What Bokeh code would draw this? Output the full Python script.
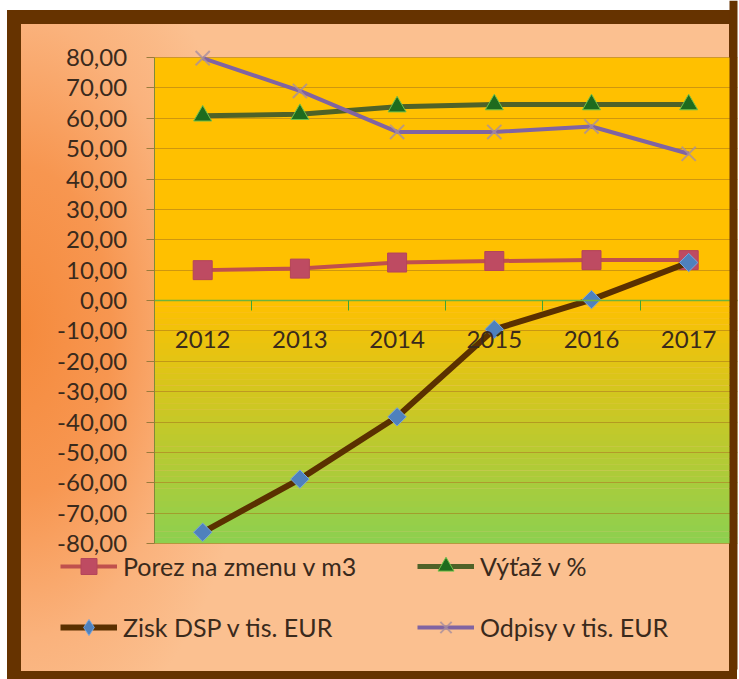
import math
from bokeh.plotting import figure
from bokeh.models import (Range1d, LinearAxis, FixedTicker, Grid, CustomJSTickFormatter,
                          Legend, LegendItem, BoxAnnotation, ColumnDataSource)
from bokeh.embed import file_html
from bokeh.resources import INLINE

# ---- data ----
years = ["2012", "2013", "2014", "2015", "2016", "2017"]
porez = [10.0, 10.5, 12.5, 13.0, 13.3, 13.3]       # Porez na zmenu v m3
vytaz = [60.8, 61.3, 63.8, 64.5, 64.5, 64.5]       # Výťaž v %
zisk = [-76.3, -58.8, -38.3, -9.5, 0.3, 12.5]      # Zisk DSP v tis. EUR
odpisy = [79.8, 69.0, 55.5, 55.5, 57.3, 48.3]      # Odpisy v tis. EUR
y_ticks = list(range(-80, 81, 10))
labels = ["Porez na zmenu v m3", "Výťaž v %", "Zisk DSP v tis. EUR", "Odpisy v tis. EUR"]

x_idx = list(range(len(years)))                      # category positions
x_lo, x_hi = -0.5, len(years) - 0.5                  # category band edges
y_lo, y_hi = y_ticks[0], y_ticks[-1]

src = ColumnDataSource(dict(x=x_idx, porez=porez, vytaz=vytaz, zisk=zisk, odpisy=odpisy))

FONT = "Lato"
TXT = "#3A2A1C"
W, H = 739, 679
# plot area in pixels (left, right, top, bottom)
PL, PR, PT, PB = 153.6, 736.8, 57.0, 543.0
px_x = (PR - PL) / (x_hi - x_lo)
px_y = (PB - PT) / (y_hi - y_lo)

p = figure(x_range=Range1d(x_lo - PL / px_x, x_hi + (W - PR) / px_x),
           y_range=Range1d(y_lo - (H - PB) / px_y, y_hi + PT / px_y),
           width=W, height=H, output_backend="svg", toolbar_location=None,
           x_axis_location=None, y_axis_location=None,
           min_border_left=0, min_border_top=0, min_border_right=0, min_border_bottom=0)

p.border_fill_alpha = 0
p.background_fill_alpha = 0
p.outline_line_color = None
p.grid.visible = False
p.styles = {
    "background": "radial-gradient(ellipse 240px 430px at 20px 330px, #F58A3C 0%, #F79650 38%, #FAB27C 72%, #FBC090 100%)",
    "box-shadow": ("inset 0 10px 0 #FFFFFF, inset 7px 0 0 #FFFFFF, inset -2px 0 0 #FFFFFF, "
                   "inset 0 24px 0 #663300, inset 21px 0 0 #663300, inset -10px 0 0 #663300, "
                   "inset 0 -8px 0 #663300"),
}

# plot-area fill: orange top half, orange->green gradient in the lower half
p.add_layout(BoxAnnotation(left=x_lo, right=x_hi, bottom=0, top=y_hi, fill_color="#FFC000",
                           fill_alpha=1, line_alpha=0, level="image"))
n = 40
c0 = (255, 192, 0)
c1 = (140, 208, 80)
for i in range(n):
    b = y_lo + i * (0 - y_lo) / n
    t = b + (0 - y_lo) / n + 0.05
    f = 1 - (i + 0.5) / n
    col = "#%02x%02x%02x" % tuple(int(round(c0[k] + (c1[k] - c0[k]) * f)) for k in range(3))
    p.add_layout(BoxAnnotation(left=x_lo, right=x_hi, bottom=b, top=min(t, 0), fill_color=col,
                               fill_alpha=1, line_alpha=0, level="image"))

# horizontal grid lines, limited to the plot area
yg = Grid(dimension=1, ticker=FixedTicker(ticks=y_ticks), cross_bounds=(x_lo, x_hi),
          grid_line_color="#A8741A", grid_line_alpha=0.55)
p.add_layout(yg)

# y axis at the left edge of the plot area
ya = LinearAxis(ticker=FixedTicker(ticks=y_ticks), fixed_location=x_lo, bounds=(y_lo, y_hi),
                formatter=CustomJSTickFormatter(code="return tick.toFixed(2).replace('.', ',');"))
ya.major_label_text_font = FONT
ya.major_label_text_font_size = "24px"
ya.major_label_text_color = TXT
ya.major_label_standoff = 19
ya.major_tick_in = 0
ya.major_tick_out = 8
ya.major_tick_line_color = "#9A7A3A"
ya.minor_tick_line_color = None
ya.axis_line_color = "#7E8A3A"
p.add_layout(ya, "left")

# category axis at y = 0: line + boundary ticks
xb = LinearAxis(ticker=FixedTicker(ticks=[i + 0.5 for i in x_idx[:-1]]), fixed_location=0,
                bounds=(x_lo, x_hi), formatter=CustomJSTickFormatter(code="return '';"))
xb.axis_line_color = "#6DB33F"
xb.axis_line_width = 1.5
xb.major_tick_line_color = "#3FA535"
xb.major_tick_in = 0
xb.major_tick_out = 10
xb.minor_tick_line_color = None
p.add_layout(xb, "below")

# category labels
xa = LinearAxis(ticker=FixedTicker(ticks=x_idx), fixed_location=0,
                major_label_overrides={i: y for i, y in zip(x_idx, years)})
xa.axis_line_color = None
xa.major_tick_line_color = None
xa.minor_tick_line_color = None
xa.major_label_standoff = 24
xa.major_label_text_font = FONT
xa.major_label_text_font_size = "24px"
xa.major_label_text_color = TXT
p.add_layout(xa, "below")

# series
l1 = p.line("x", "porez", source=src, line_color="#C0504D", line_width=4)
m1 = p.scatter("x", "porez", source=src, marker="square", size=19,
               fill_color="#BE4B62", line_color="#B4455A", line_width=1)
l2 = p.line("x", "vytaz", source=src, line_color="#4F6228", line_width=5)
m2 = p.scatter("x", "vytaz", source=src, marker="triangle", size=18,
               fill_color="#1E6B1E", line_color="#6FC04A", line_width=1)
l3 = p.line("x", "zisk", source=src, line_color="#5A3000", line_width=6)
m3 = p.scatter("x", "zisk", source=src, marker="square", size=13, angle=math.pi / 4,
               fill_color="#4F81BD", line_color="#78A6DC", line_width=1)
l4 = p.line("x", "odpisy", source=src, line_color="#8064A2", line_width=4)
m4 = p.scatter("x", "odpisy", source=src, marker="x", size=20,
               line_color="#A98E9E", line_alpha=0.8, line_width=2)
# legend swatch for the diamond marker (legend ignores the marker angle); NaN point is not drawn
m3_key = p.scatter(x=[float("nan")], y=[float("nan")], marker="diamond", size=16,
                   fill_color="#4F81BD", line_color="#78A6DC", line_width=1)

# right-hand frame border drawn above the plot area
p.add_layout(BoxAnnotation(left=729, right=737, top=10, bottom=H,
                           left_units="screen", right_units="screen",
                           top_units="screen", bottom_units="screen",
                           fill_color="#663300", fill_alpha=1, line_alpha=0, level="overlay"))

# legend: two columns, filled column by column -> rows read Porez | Výťaž, Zisk | Odpisy
legend = Legend(items=[LegendItem(label=labels[0], renderers=[l1, m1]),
                       LegendItem(label=labels[2], renderers=[l3, m3_key]),
                       LegendItem(label=labels[1], renderers=[l2, m2]),
                       LegendItem(label=labels[3], renderers=[l4, m4])],
                ncols=2, location=(55, 27),
                glyph_width=57, glyph_height=40, label_height=40, label_width=273,
                spacing=21, padding=5, margin=0, label_standoff=6,
                label_text_font=FONT, label_text_font_size="25px", label_text_color=TXT,
                background_fill_alpha=0, border_line_alpha=0)
p.add_layout(legend)

open("out.html", "w").write(file_html(p, INLINE))
